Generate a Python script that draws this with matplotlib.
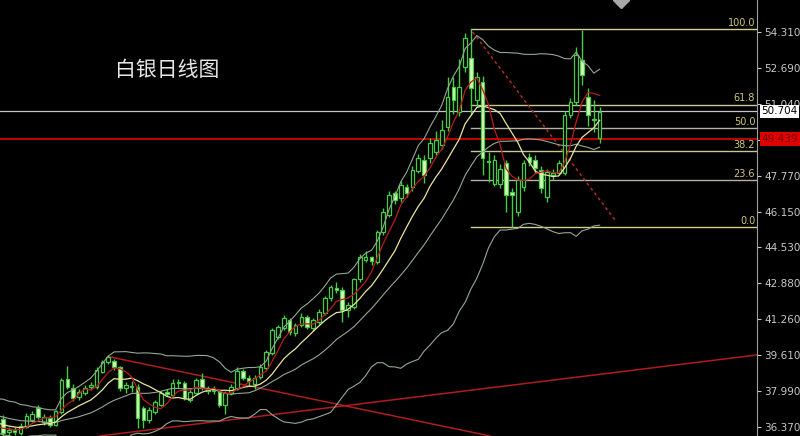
import numpy as np
import pandas as pd
import matplotlib
matplotlib.use("Agg")
import matplotlib.pyplot as plt

# silver daily candles (visible part)
opens = [36.72, 36.13, 36.20, 36.08, 36.36, 36.68, 37.22, 36.58, 36.76, 36.45,
         37.04, 38.54, 38.13, 37.72, 37.90, 38.17, 38.17, 38.86, 39.31, 39.36,
         39.08, 38.13, 38.20, 38.17, 37.22, 36.67, 37.04, 37.35, 37.95, 37.81,
         38.40, 38.36, 37.58, 37.90, 38.54, 38.08, 38.00, 37.95, 37.35, 37.90,
         38.13, 38.90, 38.58, 38.30, 38.63, 39.04, 39.72, 40.45, 40.85, 41.22,
         40.63, 40.99, 41.35, 40.85, 41.13, 41.54, 42.22, 42.68, 42.58, 41.67,
         41.80, 43.08, 43.95, 44.08, 43.85, 45.22, 46.00, 46.99, 46.76, 47.26,
         47.26, 48.00, 48.49, 48.58, 48.85, 49.17, 49.99, 51.81, 50.67, 52.72,
         53.13, 51.22, 52.04, 48.45, 47.40, 47.40, 48.35, 47.03, 46.13, 47.26,
         48.63, 48.49, 48.04, 46.80, 47.80, 47.90, 47.90, 50.54, 51.13, 53.04,
         51.35, 50.35, 49.49]
highs = [36.90, 36.35, 36.35, 36.55, 37.00, 37.10, 37.35, 36.95, 36.90, 37.15,
         38.60, 39.13, 38.30, 38.10, 38.25, 38.40, 39.10, 39.40, 39.65, 39.45,
         39.15, 38.40, 38.45, 38.30, 37.30, 37.25, 37.60, 38.00, 38.10, 38.55,
         38.55, 38.45, 38.10, 38.60, 38.80, 38.20, 38.20, 38.05, 38.00, 38.30,
         39.10, 39.00, 38.70, 38.70, 39.20, 39.85, 40.85, 41.00, 41.45, 41.30,
         41.10, 41.55, 41.45, 41.30, 41.70, 42.30, 42.80, 42.95, 42.70, 42.05,
         43.15, 44.20, 44.35, 44.15, 45.30, 46.30, 47.10, 47.10, 47.55, 47.40,
         48.20, 48.75, 48.70, 49.50, 49.80, 50.30, 52.27, 52.25, 53.10, 54.25,
         54.45, 52.50, 52.30, 48.85, 48.70, 48.30, 48.50, 47.20, 47.75, 48.50,
         48.80, 48.70, 48.20, 48.10, 48.10, 48.50, 50.70, 51.30, 53.62, 54.40,
         51.76, 51.20, 50.90]
lows = [35.95, 36.00, 36.00, 35.98, 36.30, 36.60, 36.70, 36.45, 36.35, 36.40,
        36.95, 38.10, 37.55, 37.60, 37.80, 38.05, 38.10, 38.80, 39.20, 38.95,
        38.00, 37.90, 37.95, 36.30, 36.30, 36.55, 36.95, 37.30, 37.75, 37.75,
        38.15, 37.60, 37.50, 37.85, 38.05, 37.85, 37.85, 37.25, 36.95, 37.80,
        38.05, 38.50, 38.20, 38.10, 38.55, 38.95, 39.65, 40.35, 40.75, 40.55,
        40.50, 40.90, 40.80, 40.70, 41.05, 41.45, 42.10, 42.45, 41.13, 41.35,
        41.70, 42.95, 43.85, 43.70, 43.75, 45.10, 45.90, 46.50, 46.60, 46.80,
        47.10, 47.90, 47.45, 48.35, 48.70, 49.00, 49.80, 50.60, 50.50, 52.50,
        50.54, 50.90, 47.81, 47.50, 47.30, 47.20, 46.13, 45.45, 45.95, 47.10,
        48.20, 47.90, 47.00, 46.60, 47.60, 47.80, 47.80, 50.40, 51.00, 51.90,
        50.04, 49.76, 49.26]
closes = [36.08, 36.22, 36.15, 36.40, 36.86, 36.95, 36.81, 36.81, 36.45, 37.08,
          38.49, 38.17, 37.67, 37.95, 38.13, 38.27, 38.95, 39.31, 39.54, 39.08,
          38.13, 38.27, 38.17, 36.76, 36.67, 37.13, 37.49, 37.90, 37.85, 38.36,
          38.36, 37.67, 37.95, 38.49, 38.13, 38.00, 38.05, 37.35, 37.90, 38.17,
          38.90, 38.58, 38.45, 38.60, 39.08, 39.76, 40.76, 40.90, 41.31, 40.67,
          40.99, 41.35, 40.90, 41.22, 41.58, 42.22, 42.72, 42.58, 41.67, 41.90,
          43.08, 44.08, 44.08, 43.90, 45.22, 46.13, 46.90, 46.67, 47.35, 46.99,
          48.04, 48.58, 47.81, 49.26, 49.40, 49.85, 51.36, 51.22, 51.81, 54.04,
          51.76, 52.26, 48.58, 48.40, 48.50, 48.08, 46.90, 46.90, 47.58, 48.35,
          48.40, 48.13, 47.22, 47.94, 47.90, 48.35, 50.54, 51.13, 53.26, 52.35,
          50.54, 50.30, 50.67]
# closes before the first visible bar, needed for the averages at the left edge
warmup_closes = [37.3, 37.5, 37.2, 37.4, 37.1, 37.3, 37.0, 37.2, 36.9, 37.1,
                 36.8, 36.9, 36.6, 36.7, 36.4, 36.6, 36.3, 36.5, 36.2, 36.4]

price_ticks = [54.31, 52.69, 51.04, 49.41, 47.77, 46.15, 44.53, 42.88, 41.26, 39.61, 37.99, 36.37]
last_price = 50.704
alert_price = 49.439

fib_high, fib_high_bar = 54.45, 80
fib_low = 45.45
fib_ratios = [1.0, 0.618, 0.5, 0.382, 0.236, 0.0]
fib_labels = ["100.0", "61.8", "50.0", "38.2", "23.6", "0.0"]
fib_colors = ["#d4d098", "#ccc690", "#b4b2a0", "#ccc690", "#b4b2a0", "#d4d090"]

# trend lines: (bar, price) anchors
dotted_line = [(80.3, 54.31), (104.9, 45.67)]
down_line = [(18.3, 39.54), (83.2, 35.95)]
up_line = [(16.6, 35.95), (128.9, 39.63)]

BG = "black"
GREEN = "#44cc44"
BEAR_FILL = "#daf6bc"
BAND = "#93a893"

fig = plt.figure(figsize=(8, 4.36), dpi=100, facecolor=BG)
ax = fig.add_axes([0, 0, 757 / 800, 1])
ax.set_facecolor(BG)

n = len(closes)
xs = np.arange(n)

# indicators: MA5, MA10, Bollinger(20, 2)
allc = pd.Series(warmup_closes + closes, dtype=float)
xall = np.arange(-len(warmup_closes), n)
ma5 = allc.rolling(5).mean()
ma10 = allc.rolling(10).mean()
ma20 = allc.rolling(20).mean()
sd20 = allc.rolling(20).std(ddof=0)
keep = xall >= -1
ax.plot(xall[keep], (ma20 + 2 * sd20)[keep], color=BAND, lw=0.8, zorder=5)
ax.plot(xall[keep], ma20[keep], color=BAND, lw=0.8, zorder=5)
ax.plot(xall[keep], (ma20 - 2 * sd20)[keep], color=BAND, lw=0.8, zorder=5)
ax.plot(xall[keep], ma10[keep], color="#ece59c", lw=0.9, zorder=5)
ax.plot(xall[keep], ma5[keep], color="#b81c1c", lw=0.9, zorder=5)

# candles
for i in range(n):
    o, h, l, c = opens[i], highs[i], lows[i], closes[i]
    bull = c >= o
    ax.vlines(xs[i], l, h, color=GREEN, lw=1, zorder=3)
    ax.bar(xs[i], max(abs(c - o), 0.05), bottom=min(o, c), width=0.62,
           facecolor=BG if bull else BEAR_FILL, edgecolor=GREEN, lw=0.9, zorder=4)

# horizontal price lines
ax.axhline(last_price, color="#c4c4c4", lw=0.9, zorder=2)
ax.axhline(alert_price, color="#d00000", lw=1.3, zorder=2)

# fibonacci
xmax = 128.9
for r, lab, col in zip(fib_ratios, fib_labels, fib_colors):
    lv = fib_low + r * (fib_high - fib_low)
    ax.plot([fib_high_bar, xmax], [lv, lv], color=col, lw=1.0, zorder=2)
    ax.text(xmax - 0.3, lv + 0.05, lab, color="#d2c878", fontsize=7,
            ha="right", va="bottom", zorder=6)

# trend lines
ax.plot(*zip(*dotted_line), color="#b22a2a", lw=1.1, ls=(0, (2, 2)), zorder=2)
ax.plot(*zip(*down_line), color="#b01c1c", lw=1.1, zorder=2)
ax.plot(*zip(*up_line), color="#b01c1c", lw=1.1, zorder=2)

# shift marker at the top
ax.plot(105.6, 55.76, marker="D", ms=8, color="#a8a8a8", zorder=6)

ax.set_xlim(-0.51, xmax)
ax.set_ylim(35.946, 55.7645)

# price scale on the right
ax.yaxis.tick_right()
ax.set_yticks(price_ticks)
ax.set_yticklabels(["%.3f" % p for p in price_ticks])
ax.tick_params(axis="y", colors="#c8c8c8", labelsize=7.5, length=3, width=0.8, pad=2)
ax.set_xticks([])
for s in ["top", "bottom", "left"]:
    ax.spines[s].set_visible(False)
ax.spines["right"].set_color("#a0a0a0")

ax.text(1.006, last_price, "%.3f" % last_price, transform=ax.get_yaxis_transform(),
        fontsize=7.5, color="black", va="center", ha="left", zorder=7, clip_on=False,
        bbox=dict(facecolor="white", edgecolor="none", pad=1.2))
ax.text(1.006, alert_price, "%.3f" % alert_price, transform=ax.get_yaxis_transform(),
        fontsize=7.5, color="#7a0000", va="center", ha="left", zorder=7, clip_on=False,
        bbox=dict(facecolor="#e00000", edgecolor="none", pad=1.2))

fig.text(115 / 800, 1 - 70 / 436, "白银日线图", fontsize=15, color="#e6e6e6",
         va="center", ha="left", family=["Noto Sans CJK SC", "DejaVu Sans"])

fig.savefig("out.png", dpi=100, facecolor=BG)
